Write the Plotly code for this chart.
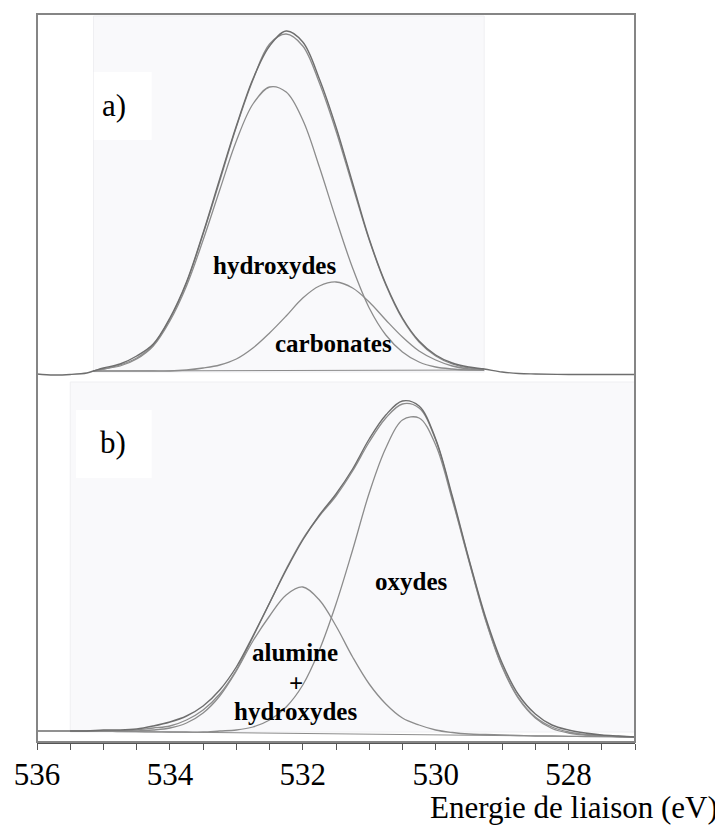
import plotly.graph_objects as go

# ---------------- panel a) ----------------
E_A = [536.0, 535.75, 535.5, 535.25, 535.15, 535.0, 534.75, 534.5, 534.25, 534.0,
       533.75, 533.5, 533.25, 533.0, 532.75, 532.5, 532.25, 532.0, 531.75, 531.5,
       531.25, 531.0, 530.75, 530.5, 530.25, 530.0, 529.75, 529.5, 529.27, 529.0,
       528.75, 528.5, 528.0, 527.5, 527.0]
RAW_A = [2, 1, 1.5, 3, 5, 8, 12, 20, 32, 58,
         94, 143, 197, 250, 297, 330, 345, 334, 297, 249,
         193, 137, 92, 58, 35, 21, 13, 9, 7, 4,
         2.5, 2, 1.5, 1.5, 1.5]

E_FIT_A = [535.15, 535.0, 534.75, 534.5, 534.25, 534.0, 533.75, 533.5, 533.25, 533.0,
           532.75, 532.5, 532.25, 532.0, 531.75, 531.5, 531.25, 531.0, 530.75, 530.5,
           530.25, 530.0, 529.75, 529.5, 529.27]
FIT_A = [5, 7, 11, 18, 31, 57, 93, 142, 195, 249,
         296, 332, 342, 330, 293, 245, 190, 136, 91, 57,
         34, 20, 12, 8, 7]
HYD_A = [5, 7, 10, 17, 30, 55, 90, 136, 186, 235,
         272, 289, 284, 256, 209, 157, 108, 68, 41, 24,
         14, 9, 7, 6, 6]
CARB_A = [5, 5, 5, 5, 5, 5, 6, 8, 11, 17,
          28, 43, 60, 78, 90, 94, 88, 74, 56, 39,
          25, 16, 10, 7, 6]
BASE_A_E = [535.15, 529.27]
BASE_A = [5, 6]

# ---------------- panel b) ----------------
E_B = [536.0, 535.75, 535.5, 535.25, 535.0, 534.75, 534.5, 534.25, 534.0, 533.75,
       533.5, 533.25, 533.0, 532.75, 532.5, 532.25, 532.0, 531.75, 531.5, 531.25,
       531.0, 530.75, 530.5, 530.25, 530.0, 529.75, 529.5, 529.25, 529.0, 528.75,
       528.5, 528.25, 528.0, 527.75, 527.5, 527.25, 527.0]
RAW_B = [11, 11, 11, 11, 12, 12, 13, 16, 20, 26,
         36, 52, 75, 106, 139, 172, 202, 227, 248, 273,
         303, 327, 341, 336, 303, 246, 183, 125, 79, 47,
         28, 17, 12, 9, 7, 6, 5]

E_FIT_B = E_B[2:]
FIT_B = [11, 11, 11, 11, 12, 14, 16, 22,
         32, 48, 72, 105, 139, 173, 203, 226, 246, 271,
         300, 324, 338, 334, 302, 244, 182, 123, 76, 44,
         25, 15, 10, 7.5, 6.5, 5.5, 5]
ALU_B = [11, 11, 11, 11, 11, 12, 14, 19,
         29, 46, 71, 101, 126, 147, 155, 142, 116, 85,
         58, 38, 24, 17, 12, 9.5, 8, 7.5, 7, 6.5,
         6, 6, 5.7, 5.5, 5.4, 5.2, 5]
OXY_B = [11, 11, 11, 10.5, 10.3, 10.1, 10, 10,
         10, 11, 12, 15, 22, 35, 57, 92, 138, 192,
         249, 294, 322, 324, 297, 242, 181, 122, 75, 43,
         24, 13.5, 9, 7, 6, 5.5, 5]
BASE_B_E = [535.5, 527.0]
BASE_B = [11, 5]

TICK_VALS = [536, 534, 532, 530, 528]
TICK_TEXT = ["536", "534", "532", "530", "528"]

RAW_COL = "#6e6e6e"
FIT_COL = "#8c8c8c"
SERIF = "Liberation Serif, Times New Roman, DejaVu Serif, serif"

fig = go.Figure()

def line(x, y, yaxis, color, width=1.3):
    fig.add_trace(go.Scatter(x=x, y=y, mode="lines", xaxis="x", yaxis=yaxis,
                             line=dict(color=color, width=width, shape="spline", smoothing=1.0),
                             hoverinfo="skip", showlegend=False))

# panel a traces (y2)
line(BASE_A_E, BASE_A, "y2", FIT_COL, 1.0)
line(E_FIT_A, CARB_A, "y2", FIT_COL)
line(E_FIT_A, HYD_A, "y2", FIT_COL)
line(E_FIT_A, FIT_A, "y2", FIT_COL)
line(E_A, RAW_A, "y2", RAW_COL, 1.4)

# panel b traces (y)
line(BASE_B_E, BASE_B, "y", FIT_COL, 1.0)
line(E_FIT_B, ALU_B, "y", FIT_COL)
line(E_FIT_B, OXY_B, "y", FIT_COL)
line(E_FIT_B, FIT_B, "y", FIT_COL)
line(E_B, RAW_B, "y", RAW_COL, 1.4)

SPLIT = (742 - 376) / 728.0
SHADE = "#f9f9fb"

shapes = [
    dict(type="rect", xref="x", yref="y2", x0=535.15, x1=529.27, y0=4, y1=360,
         fillcolor=SHADE, line=dict(color="#efeff2", width=1), layer="below"),
    dict(type="rect", xref="x", yref="y", x0=535.5, x1=527.0, y0=10, y1=360,
         fillcolor=SHADE, line=dict(color="#efeff2", width=1), layer="below"),
    dict(type="rect", xref="x", yref="y2", x0=535.145, x1=534.275, y0=236, y1=304,
         fillcolor="white", line=dict(width=0), layer="below"),
    dict(type="rect", xref="x", yref="y", x0=535.415, x1=534.275, y0=264, y1=332,
         fillcolor="white", line=dict(width=0), layer="below"),
    dict(type="rect", xref="paper", yref="paper", x0=0, x1=1, y0=0, y1=1,
         line=dict(color="#858585", width=2), layer="above"),
]

bold = dict(family=SERIF, size=25, color="black")
annotations = [
    dict(x=534.845, y=271, xref="x", yref="y2", text="a)", showarrow=False,
         font=dict(family=SERIF, size=31, color="black")),
    dict(x=534.86, y=300, xref="x", yref="y", text="b)", showarrow=False,
         font=dict(family=SERIF, size=31, color="black")),
    dict(x=532.43, y=111, xref="x", yref="y2", text="<b>hydroxydes</b>", showarrow=False, font=bold),
    dict(x=531.545, y=33, xref="x", yref="y2", text="<b>carbonates</b>", showarrow=False, font=bold),
    dict(x=530.36, y=161, xref="x", yref="y", text="<b>oxydes</b>", showarrow=False, font=bold),
    dict(x=532.115, y=90, xref="x", yref="y", text="<b>alumine</b>", showarrow=False, font=bold),
    dict(x=532.1, y=59, xref="x", yref="y", text="<b>+</b>", showarrow=False, font=bold),
    dict(x=532.115, y=31, xref="x", yref="y", text="<b>hydroxydes</b>", showarrow=False, font=bold),
    dict(x=(712 - 27) / 600.0, y=(742 - 808) / 728.0, xref="paper", yref="paper",
         text="Energie de liaison (eV)", showarrow=False, xanchor="right", yanchor="middle",
         font=dict(family=SERIF, size=31, color="black")),
]

fig.update_layout(
    width=715, height=821,
    margin=dict(l=27, r=88, t=6, b=87, pad=0),
    paper_bgcolor="white", plot_bgcolor="white",
    showlegend=False,
    xaxis=dict(range=[536, 527], showgrid=False, zeroline=False,
               showline=True, linecolor="#555555", linewidth=1.5,
               ticks="outside", ticklen=6, tickwidth=1.2, tickcolor="#555555",
               tickmode="array", tickvals=TICK_VALS, ticktext=TICK_TEXT,
               tickfont=dict(family=SERIF, size=31, color="black"),
               ticklabelstandoff=-2,
               minor=dict(tickmode="linear", tick0=527, dtick=0.5, ticks="outside",
                          ticklen=6, tickwidth=1.2, tickcolor="#555555", showgrid=False),
               anchor="y"),
    yaxis=dict(domain=[0, SPLIT], range=[0, 366], visible=False, fixedrange=True),
    yaxis2=dict(domain=[SPLIT, 1], range=[0, 362], visible=False, anchor="x"),
    shapes=shapes,
    annotations=annotations,
)

fig.write_html("out.html")
